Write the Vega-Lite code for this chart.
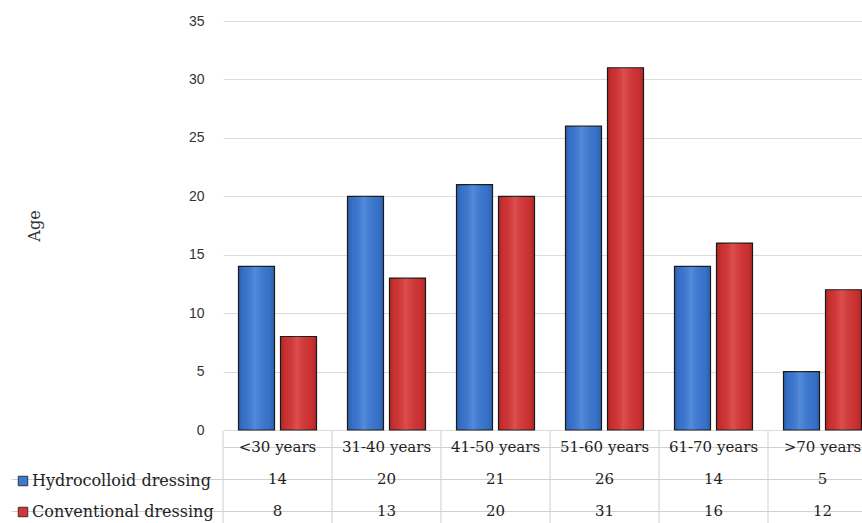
{
  "$schema": "https://vega.github.io/schema/vega-lite/v6.json",
  "padding": {"left": 10, "top": 14, "right": 0, "bottom": 0},
  "bounds": "flush",
  "spacing": 1,
  "config": {"view": {"stroke": null}},
  "data": {"values": [
    {"category": "<30 years", "series": "Hydrocolloid dressing", "value": 14},
    {"category": "31-40 years", "series": "Hydrocolloid dressing", "value": 20},
    {"category": "41-50 years", "series": "Hydrocolloid dressing", "value": 21},
    {"category": "51-60 years", "series": "Hydrocolloid dressing", "value": 26},
    {"category": "61-70 years", "series": "Hydrocolloid dressing", "value": 14},
    {"category": ">70 years", "series": "Hydrocolloid dressing", "value": 5},
    {"category": "<30 years", "series": "Conventional dressing", "value": 8},
    {"category": "31-40 years", "series": "Conventional dressing", "value": 13},
    {"category": "41-50 years", "series": "Conventional dressing", "value": 20},
    {"category": "51-60 years", "series": "Conventional dressing", "value": 31},
    {"category": "61-70 years", "series": "Conventional dressing", "value": 16},
    {"category": ">70 years", "series": "Conventional dressing", "value": 12}
  ]},
  "vconcat": [
    {
      "width": 654,
      "height": 409,
      "layer": [
        {
          "mark": {"type": "bar", "stroke": "#1c1c1c", "strokeWidth": 1.2},
          "encoding": {
            "x": {"field": "category", "type": "nominal", "sort": ["<30 years", "31-40 years", "41-50 years", "51-60 years", "61-70 years", ">70 years"], "scale": {"paddingInner": 0, "paddingOuter": 0}, "axis": null},
            "xOffset": {"field": "series", "type": "nominal", "sort": ["Hydrocolloid dressing", "Conventional dressing"], "scale": {"paddingInner": 0.143, "paddingOuter": 0.369}},
            "y": {"field": "value", "type": "quantitative", "scale": {"domain": [0, 35]},
              "axis": {"title": "Age", "titleFont": "DejaVu Serif", "titleFontSize": 16, "titleFontWeight": "normal", "titleColor": "#333", "titlePadding": 146,
                "labelFont": "Liberation Sans", "labelFontSize": 14, "labelColor": "#333", "labelPadding": 19, "ticks": false, "domain": false,
                "gridColor": "#dcdcdc", "values": [0, 5, 10, 15, 20, 25, 30, 35]}},
            "color": {"field": "series", "type": "nominal", "sort": ["Hydrocolloid dressing", "Conventional dressing"],
              "scale": {"domain": ["Hydrocolloid dressing", "Conventional dressing"], "range": ["#3a79d6", "#d83434"]},
              "legend": {"orient": "none", "legendX": -208, "legendY": 452, "title": null, "symbolType": "square", "symbolSize": 90,
                "labelFont": "DejaVu Serif", "labelFontSize": 16, "labelColor": "#222", "labelLimit": 0, "rowPadding": 15, "labelOffset": 1,
                "symbolStrokeColor": "#333", "symbolStrokeWidth": 1}}
          }
        },
        {
          "mark": {"type": "bar", "fill": {"gradient": "linear", "x1": 0, "y1": 0, "x2": 1, "y2": 0, "stops": [
            {"offset": 0, "color": "rgba(0,0,0,0.2)"},
            {"offset": 0.15, "color": "rgba(0,0,0,0.06)"},
            {"offset": 0.45, "color": "rgba(255,255,255,0.13)"},
            {"offset": 0.85, "color": "rgba(0,0,0,0.06)"},
            {"offset": 1, "color": "rgba(0,0,0,0.2)"}]}},
          "encoding": {
            "x": {"field": "category", "type": "nominal", "sort": ["<30 years", "31-40 years", "41-50 years", "51-60 years", "61-70 years", ">70 years"]},
            "xOffset": {"field": "series", "type": "nominal", "sort": ["Hydrocolloid dressing", "Conventional dressing"]},
            "y": {"field": "value", "type": "quantitative"}
          }
        }
      ]
    },
    {
      "width": 654,
      "height": 96,
      "layer": [
        {
          "transform": [{"filter": "datum.series === 'Hydrocolloid dressing'"}],
          "mark": {"type": "rule", "color": "#cfcfcf", "strokeWidth": 1},
          "encoding": {
            "x": {"field": "category", "type": "nominal", "bandPosition": 0, "sort": ["<30 years", "31-40 years", "41-50 years", "51-60 years", "61-70 years", ">70 years"], "scale": {"paddingInner": 0, "paddingOuter": 0}, "axis": null}
          }
        },
        {
          "transform": [{"filter": "datum.series === 'Hydrocolloid dressing'"}],
          "mark": {"type": "text", "font": "DejaVu Serif", "fontSize": 15, "color": "#222"},
          "encoding": {
            "x": {"field": "category", "type": "nominal", "sort": ["<30 years", "31-40 years", "41-50 years", "51-60 years", "61-70 years", ">70 years"]},
            "y": {"datum": "header", "type": "nominal", "scale": {"domain": ["header", "Hydrocolloid dressing", "Conventional dressing"], "paddingInner": 0, "paddingOuter": 0},
              "axis": {"title": null, "labels": false, "domain": false, "grid": true, "bandPosition": 0, "gridColor": "#cfcfcf", "ticks": true, "tickSize": 212,
                "tickColor": {"condition": {"test": "datum.value === 'header'", "value": "transparent"}, "value": "#cfcfcf"}}},
            "text": {"field": "category"}
          }
        },
        {
          "mark": {"type": "text", "font": "DejaVu Serif", "fontSize": 15, "color": "#222"},
          "encoding": {
            "x": {"field": "category", "type": "nominal", "sort": ["<30 years", "31-40 years", "41-50 years", "51-60 years", "61-70 years", ">70 years"]},
            "y": {"field": "series", "type": "nominal"},
            "text": {"field": "value"}
          }
        }
      ]
    }
  ]
}
